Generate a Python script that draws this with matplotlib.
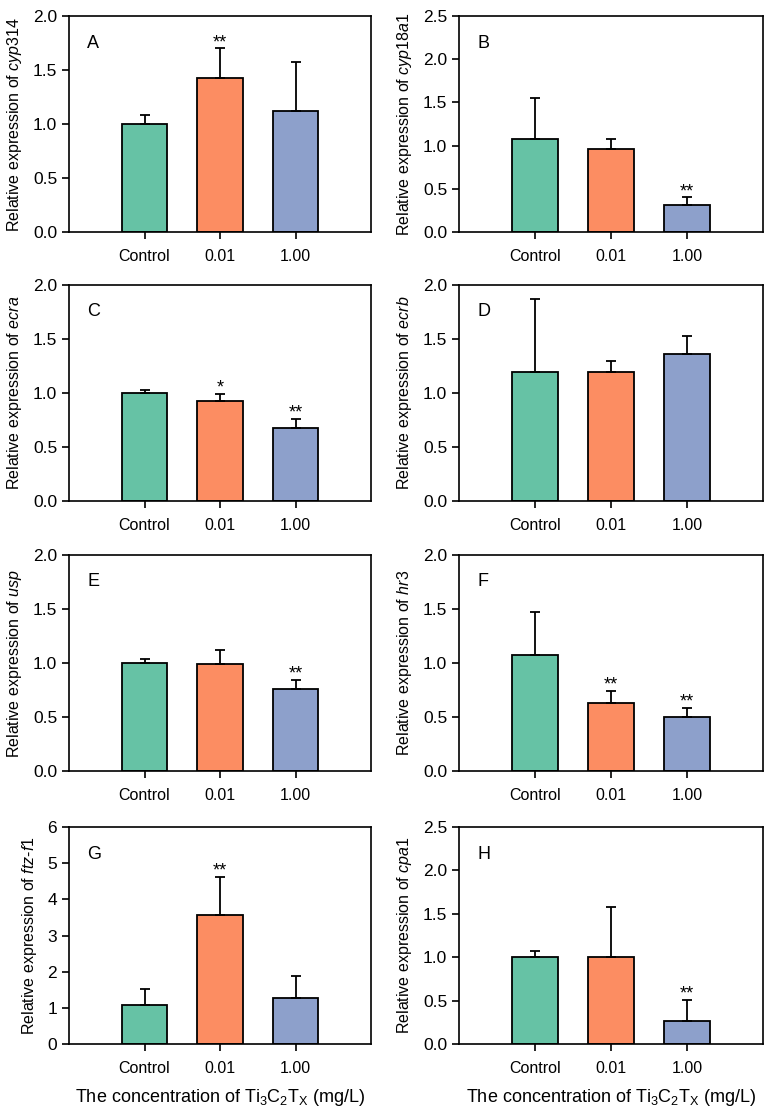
import matplotlib
matplotlib.use('Agg')
import matplotlib.pyplot as plt
import numpy as np

plt.rcParams['font.family'] = ['Liberation Sans', 'DejaVu Sans']
plt.rcParams['mathtext.fontset'] = 'custom'
plt.rcParams['mathtext.rm'] = 'Liberation Sans'
plt.rcParams['mathtext.it'] = 'Liberation Sans:italic'

# data
groups = ['Control', '0.01', '1.00']
panel_letters = ['A', 'B', 'C', 'D', 'E', 'F', 'G', 'H']
genes = [r'$\mathit{cyp314}$', r'$\mathit{cyp18a1}$', r'$\mathit{ecra}$', r'$\mathit{ecrb}$',
         r'$\mathit{usp}$', r'$\mathit{hr3}$', r'$\mathit{ftz}$-$\mathit{f1}$', r'$\mathit{cpa1}$']

means_A = [1.00, 1.43, 1.12]
errs_A = [0.08, 0.27, 0.45]
means_B = [1.08, 0.96, 0.31]
errs_B = [0.47, 0.12, 0.09]
means_C = [1.00, 0.93, 0.68]
errs_C = [0.03, 0.06, 0.08]
means_D = [1.19, 1.19, 1.36]
errs_D = [0.68, 0.11, 0.17]
means_E = [1.00, 0.99, 0.76]
errs_E = [0.04, 0.13, 0.08]
means_F = [1.07, 0.63, 0.50]
errs_F = [0.40, 0.11, 0.08]
means_G = [1.07, 3.58, 1.27]
errs_G = [0.45, 1.05, 0.62]
means_H = [1.00, 1.00, 0.27]
errs_H = [0.07, 0.58, 0.24]

signif_A = ['', '**', '']
signif_B = ['', '', '**']
signif_C = ['', '*', '**']
signif_D = ['', '', '']
signif_E = ['', '', '**']
signif_F = ['', '**', '**']
signif_G = ['', '**', '']
signif_H = ['', '', '**']

ymax = [2.0, 2.5, 2.0, 2.0, 2.0, 2.0, 6, 2.5]
ystep = [0.5, 0.5, 0.5, 0.5, 0.5, 0.5, 1, 0.5]

all_means = [means_A, means_B, means_C, means_D, means_E, means_F, means_G, means_H]
all_errs = [errs_A, errs_B, errs_C, errs_D, errs_E, errs_F, errs_G, errs_H]
all_signif = [signif_A, signif_B, signif_C, signif_D, signif_E, signif_F, signif_G, signif_H]

colors = ['#66C2A5', '#FC8D62', '#8DA0CB']

W, H = 767, 1116
fig = plt.figure(figsize=(W / 100, H / 100), dpi=100)

# axes boxes in pixels: left, right, top, bottom
col_x = [(69, 371), (459, 763)]
row_y = [(16, 232), (285, 501), (555, 771), (827, 1044)]

x = np.arange(1, 4)
for i in range(8):
    r, c = divmod(i, 2)
    x0, x1 = col_x[c]
    y0, y1 = row_y[r]
    ax = fig.add_axes([x0 / W, 1 - y1 / H, (x1 - x0) / W, (y1 - y0) / H])
    m = all_means[i]
    e = all_errs[i]
    ax.bar(x, m, width=0.6, color=colors, edgecolor='black', linewidth=1.3,
           yerr=[np.zeros(3), e], capsize=3.5,
           error_kw=dict(elinewidth=1.3, capthick=1.3, ecolor='black'), zorder=2)
    for xi, mi, ei, s in zip(x, m, e, all_signif[i]):
        if s:
            ax.annotate(s, (xi, mi + ei), xytext=(0, 1), textcoords='offset points',
                        ha='center', va='baseline', fontsize=13)
    ax.set_xlim(0, 4)
    ax.set_ylim(0, ymax[i])
    ticks = np.arange(0, ymax[i] + 1e-9, ystep[i])
    ax.set_yticks(ticks)
    if ystep[i] < 1:
        ax.set_yticklabels([f'{t:.1f}' for t in ticks])
    else:
        ax.set_yticklabels([f'{t:.0f}' for t in ticks])
    ax.set_xticks(x)
    ax.set_xticklabels(groups)
    ax.tick_params(axis='both', direction='out', length=5, width=1.2, top=False, right=False)
    ax.tick_params(axis='y', labelsize=12.5)
    ax.tick_params(axis='x', labelsize=11.5, pad=7)
    for sp in ax.spines.values():
        sp.set_linewidth(1.2)
    ax.set_ylabel('Relative expression of ' + genes[i], fontsize=11.5, labelpad=6)
    ax.text(0.06, 0.875, panel_letters[i], transform=ax.transAxes, fontsize=13,
            ha='left', va='center')
    if r == 3:
        fig.text((x0 + x1) / 2 / W, 1 - 1097 / H,
                 r'The concentration of Ti$_3$C$_2$T$_\mathrm{X}$ (mg/L)',
                 ha='center', va='center', fontsize=13)

fig.savefig('out.png', dpi=100)
